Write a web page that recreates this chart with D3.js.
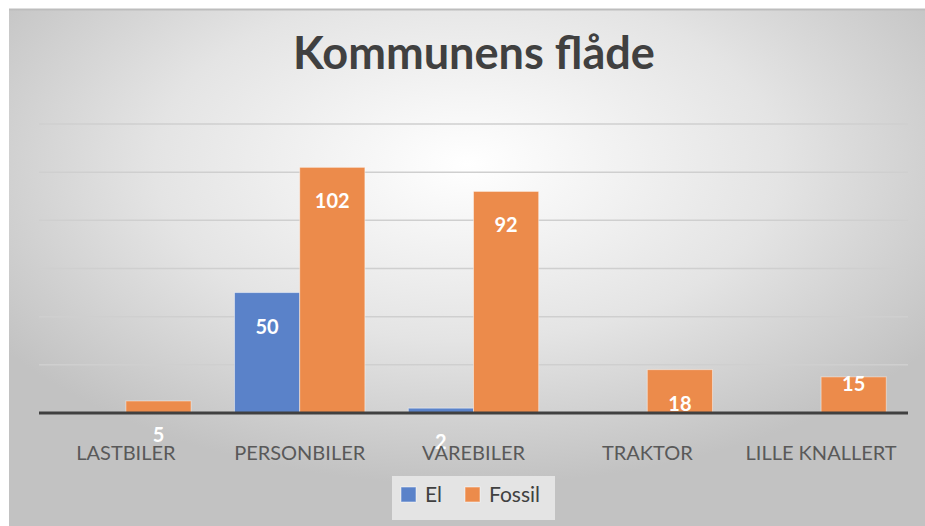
<!doctype html>
<html lang='en'>
<head>
  <meta charset='utf-8'>
  <title>Kommunens flåde</title>
  <style>
    html, body { margin: 0; padding: 0; background: #fff; }
    svg { display: block; font-family: Lato, 'Open Sans', sans-serif; }
    .grid line { stroke: #cfcfcf; stroke-width: 1.5; }
    .cat text { fill: #595959; font-size: 20px; }
    .lbl { fill: #fff; font-weight: bold; font-size: 20px; }
  </style>
</head>
<body>
  <script src='https://d3js.org/d3.v7.min.js'></script>
  <script>
    const categories = ['LASTBILER', 'PERSONBILER', 'VAREBILER', 'TRAKTOR', 'LILLE KNALLERT']
    const series = ['El', 'Fossil']
    const elValues = [0, 50, 2, 0, 0]
    const fossilValues = [5, 102, 92, 18, 15]
    const yTicks = [20, 40, 60, 80, 100, 120]
    const colors = ['#5A82C9', '#EC8B4B']

    const width = 925
    const height = 526
    const plot = { left: 39, right: 908, top: 124, bottom: 413 }

    // Excel placed a couple of labels oddly; nudge in px from "inside end"
    const labelNudge = { 'LILLE KNALLERT|Fossil': -27 }

    const svg = d3.select('body').append('svg')
      .attr('width', width)
      .attr('height', height)

    const defs = svg.append('defs')
    const grad = defs.append('radialGradient')
      .attr('id', 'bg')
      .attr('cx', '50%').attr('cy', '30%').attr('r', '62%')
    grad.append('stop').attr('offset', '0%').attr('stop-color', '#ffffff')
    grad.append('stop').attr('offset', '55%').attr('stop-color', '#e4e4e4')
    grad.append('stop').attr('offset', '100%').attr('stop-color', '#c2c2c2')

    svg.append('rect')
      .attr('x', 9).attr('y', 9)
      .attr('width', width - 9).attr('height', height - 9)
      .attr('fill', 'url(#bg)')
    svg.append('line')
      .attr('x1', 9).attr('x2', width).attr('y1', 9.5).attr('y2', 9.5)
      .attr('stroke', '#bdbdbd').attr('stroke-width', 2)

    const x0 = d3.scaleBand()
      .domain(categories)
      .range([plot.left, plot.right])
      .paddingInner(0.25)
      .paddingOuter(0.125)

    const x1 = d3.scaleBand()
      .domain(series)
      .range([0, x0.bandwidth()])

    const y = d3.scaleLinear()
      .domain([0, 120])
      .range([plot.bottom, plot.top])

    // title, sized to match the reference width
    const title = svg.append('text')
      .attr('x', 474)
      .attr('y', 69)
      .attr('text-anchor', 'middle')
      .attr('fill', '#404040')
      .style('font-weight', 'bold')
      .style('font-size', '44px')
      .text('Kommunens flåde')
    const tw = title.node().getComputedTextLength()
    title.style('font-size', (44 * 362 / tw) + 'px')

    svg.append('g')
      .attr('class', 'grid')
      .selectAll('line')
      .data(yTicks)
      .join('line')
      .attr('x1', plot.left)
      .attr('x2', plot.right)
      .attr('y1', d => y(d))
      .attr('y2', d => y(d))

    const rows = categories.map((c, i) => ({ cat: c, values: [elValues[i], fossilValues[i]] }))

    const group = svg.append('g')
      .selectAll('g')
      .data(rows)
      .join('g')
      .attr('transform', d => `translate(${x0(d.cat)},0)`)

    group.selectAll('rect')
      .data(d => d.values.map((v, j) => ({ cat: d.cat, s: series[j], v, j })).filter(e => e.v > 0))
      .join('rect')
      .attr('x', d => x1(d.s))
      .attr('width', x1.bandwidth())
      .attr('y', d => y(d.v))
      .attr('height', d => y(0) - y(d.v))
      .attr('fill', d => colors[d.j])
      .attr('stroke', '#ffffff')
      .attr('stroke-opacity', 0.45)
      .attr('stroke-width', 1)

    // category labels drawn before value labels so small labels sit on top
    svg.append('g')
      .attr('class', 'cat')
      .selectAll('text')
      .data(categories)
      .join('text')
      .attr('x', d => x0(d) + x0.bandwidth() / 2)
      .attr('y', 460)
      .attr('text-anchor', 'middle')
      .text(d => d)

    // baseline
    svg.append('line')
      .attr('x1', plot.left).attr('x2', plot.right)
      .attr('y1', y(0)).attr('y2', y(0))
      .attr('stroke', '#404040').attr('stroke-width', 3)

    group.selectAll('text.lbl')
      .data(d => d.values.map((v, j) => ({ cat: d.cat, s: series[j], v })).filter(e => e.v > 0))
      .join('text')
      .attr('class', 'lbl')
      .attr('x', d => x1(d.s) + x1.bandwidth() / 2)
      .attr('y', d => y(d.v) + 41 + (labelNudge[d.cat + '|' + d.s] || 0))
      .attr('text-anchor', 'middle')
      .text(d => d.v)

    // legend
    const legend = svg.append('g').attr('transform', 'translate(392,476)')
    legend.append('rect')
      .attr('width', 163).attr('height', 44)
      .attr('fill', '#ececec').attr('opacity', 0.8)
    const item = legend.selectAll('g')
      .data(series)
      .join('g')
      .attr('transform', (d, i) => `translate(${[9, 73][i]},11)`)
    item.append('rect')
      .attr('width', 15).attr('height', 15)
      .attr('fill', (d, i) => colors[i])
      .attr('stroke', '#ffffff').attr('stroke-opacity', 0.5)
    item.append('text')
      .attr('x', 24)
      .attr('y', 15)
      .attr('fill', '#404040')
      .style('font-size', '21px')
      .text(d => d)
  </script>
</body>
</html>
